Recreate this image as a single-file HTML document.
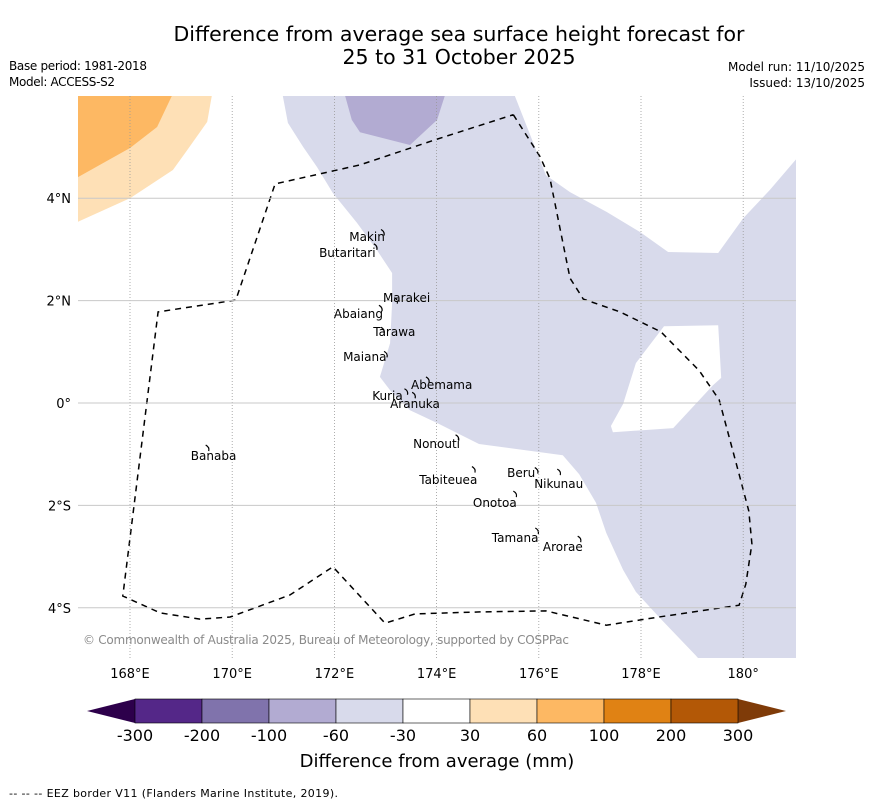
<!DOCTYPE html>
<html><head><meta charset="utf-8"><style>
body{margin:0;background:#fff;}
svg{display:block;font-family:"DejaVu Sans","Liberation Sans",sans-serif;}
</style></head><body>
<svg id="chart" width="873" height="804" viewBox="0 0 873 804" xmlns="http://www.w3.org/2000/svg">
<rect width="873" height="804" fill="#fff"/>
<text x="459" y="41" font-size="20.5" text-anchor="middle">Difference from average sea surface height forecast for</text>
<text x="459" y="64" font-size="20.5" text-anchor="middle">25 to 31 October 2025</text>
<text x="9" y="70" font-size="12" textLength="138">Base period: 1981-2018</text>
<text x="9" y="86" font-size="12" textLength="106">Model: ACCESS-S2</text>
<text x="865" y="71" font-size="12" text-anchor="end">Model run: 11/10/2025</text>
<text x="865" y="87" font-size="12" text-anchor="end">Issued: 13/10/2025</text>
<g id="map"></g>
<g id="cbar"></g>
<text x="437" y="767" font-size="18" text-anchor="middle">Difference from average (mm)</text>
<text x="9" y="797" font-size="11" textLength="329">--  --  -- EEZ border V11 (Flanders Marine Institute, 2019).</text>
</svg>
<script>
const lonTicks=[168,170,172,174,176,178,180];
const lonTickLabels=["168°E","170°E","172°E","174°E","176°E","178°E","180°"];
const latTicks=[4,2,0,-2,-4];
const latTickLabels=["4°N","2°N","0°","2°S","4°S"];
const lightPurple=[[170.99,6.0],[171.09,5.47],[171.39,5.0],[171.66,4.61],[171.97,4.10],[172.44,3.52],[172.83,2.99],[173.13,2.54],[173.13,1.95],[173.09,1.17],[172.89,0.51],[173.09,0.25],[173.48,-0.14],[174.01,-0.39],[174.83,-0.80],[176.47,-1.02],[176.79,-1.39],[177.12,-1.95],[177.32,-2.54],[177.65,-3.26],[177.90,-3.69],[178.37,-4.20],[179.06,-4.92],[179.15,-5.02],[181.06,-5.02],[181.06,4.79],[180.52,4.16],[180.0,3.61],[179.51,2.93],[178.53,2.95],[177.98,3.34],[177.33,3.73],[176.61,4.12],[176.14,4.45],[175.53,6.0]];
const purpleHole=[[178.45,1.50],[179.51,1.52],[179.57,0.49],[179.41,0.35],[178.63,-0.49],[177.45,-0.57],[177.41,-0.45],[177.65,-0.02],[177.90,0.78]];
const midPurple=[[172.21,6.0],[172.34,5.53],[172.50,5.29],[173.48,5.04],[174.01,5.53],[174.16,6.0]];
const lightOrange=[[166.98,3.54],[168.0,4.0],[168.84,4.55],[169.12,4.94],[169.51,5.49],[169.60,6.0],[166.98,6.0]];
const midOrange=[[166.98,4.41],[168.0,4.98],[168.53,5.39],[168.82,6.0],[166.98,6.0]];
const eez=[[175.50,5.63],[176.02,4.82],[176.22,4.38],[176.61,2.44],[176.87,2.03],[177.59,1.78],[178.39,1.39],[179.14,0.63],[179.53,0.06],[179.92,-1.39],[180.11,-2.11],[180.17,-2.75],[180.05,-3.54],[179.92,-3.95],[178.35,-4.18],[177.32,-4.34],[176.14,-4.06],[174.85,-4.08],[173.58,-4.12],[172.99,-4.30],[171.97,-3.20],[171.13,-3.75],[169.96,-4.18],[169.37,-4.22],[168.59,-4.10],[167.86,-3.77],[168.55,1.78],[170.07,2.01],[170.84,4.28],[172.50,4.65],[173.97,5.14],[175.50,5.63]];
const islandNames=["Makin","Butaritari","Marakei","Abaiang","Tarawa","Maiana","Abemama","Kuria","Aranuka","Nonouti","Banaba","Tabiteuea","Beru","Nikunau","Onotoa","Tamana","Arorae"];
const islandLon=[172.29,171.70,172.95,171.99,172.76,172.17,173.50,172.74,173.09,173.54,169.19,173.66,175.38,175.91,174.71,175.08,176.08];
const islandLat=[3.16,2.85,1.97,1.66,1.31,0.82,0.27,0.06,-0.10,-0.88,-1.11,-1.58,-1.45,-1.66,-2.03,-2.71,-2.89];
const atollLon=[172.97,172.83,173.23,172.93,172.97,173.03,173.85,173.43,173.58,174.43,169.54,174.75,175.98,176.42,175.56,175.99,176.82];
const atollLat=[3.33,3.05,2.00,1.85,1.42,0.95,0.45,0.22,0.15,-0.68,-0.88,-1.30,-1.32,-1.35,-1.78,-2.50,-2.66];
const cbLevels=["-300","-200","-100","-60","-30","30","60","100","200","300"];
const cbColors=["#542788","#8073ac","#b2abd2","#d8daeb","#ffffff","#fee0b6","#fdb863","#e08214","#b35806"];
const cbUnder="#2d004b", cbOver="#7f3b08";

const NS="http://www.w3.org/2000/svg";
const X0=78,X1=796,Y0=96,Y1=658;
const xs=lon=>130+(lon-168)*51.1;
const ys=lat=>403-lat*51.2;
const map=document.getElementById('map');
function mk(tag,attrs,parent){const e=document.createElementNS(NS,tag);for(const k in attrs)e.setAttribute(k,attrs[k]);(parent||map).appendChild(e);return e;}
const ptsStr=a=>a.map(p=>xs(p[0]).toFixed(1)+","+ys(p[1]).toFixed(1)).join(" ");
const pathStr=a=>"M"+a.map(p=>xs(p[0]).toFixed(1)+" "+ys(p[1]).toFixed(1)).join(" L")+" Z";
const cp=mk('clipPath',{id:'clip'});
mk('rect',{x:X0,y:Y0,width:X1-X0,height:Y1-Y0},cp);
const g=mk('g',{'clip-path':'url(#clip)'});
let e;
e=mk('path',{d:pathStr(lightPurple)+" "+pathStr(purpleHole),fill:cbColors[3],'fill-rule':'evenodd'},g);


e=mk('polygon',{points:ptsStr(midPurple),fill:cbColors[2]},g);


e=mk('polygon',{points:ptsStr(lightOrange),fill:cbColors[5]},g);


e=mk('polygon',{points:ptsStr(midOrange),fill:cbColors[6]},g);


lonTicks.forEach((v,i)=>{
  e=mk('line',{x1:xs(v),x2:xs(v),y1:Y0,y2:Y1,stroke:'#999','stroke-width':0.8,'stroke-dasharray':'1,2'});
  
  
  e=mk('text',{x:xs(v),y:678,'font-size':13,'text-anchor':'middle'});e.textContent=lonTickLabels[i];
  
  
});
latTicks.forEach((v,i)=>{
  e=mk('line',{x1:X0,x2:X1,y1:ys(v),y2:ys(v),stroke:'#c8c8c8','stroke-width':1});
  
  
  e=mk('text',{x:71,y:ys(v)+5,'font-size':13,'text-anchor':'end'});e.textContent=latTickLabels[i];
  
  
});
e=mk('polyline',{points:ptsStr(eez),fill:'none',stroke:'#000','stroke-width':1.5,'stroke-dasharray':'6,5'},g);


atollLon.forEach((lon,i)=>{
  const x=xs(lon),y=ys(atollLat[i]);
  e=mk('path',{d:`M${x-3} ${y-3} q4 2 3 6`,fill:'none',stroke:'#000','stroke-width':1.2},g);
  
  
});
islandNames.forEach((n,i)=>{
  e=mk('text',{x:xs(islandLon[i]),y:ys(islandLat[i]),'font-size':12});e.textContent=n;
  
  
});
e=mk('text',{x:83,y:644,'font-size':12,fill:'#8a8a8a',textLength:486});e.textContent="© Commonwealth of Australia 2025, Bureau of Meteorology, supported by COSPPac";



const cb=document.getElementById('cbar');
const CB0=135,CB1=738,CBy=699,CBh=24,n=cbColors.length,w=(CB1-CB0)/n;
e=mk('polygon',{points:`87,711 ${CB0},${CBy} ${CB0},${CBy+CBh}`,fill:cbUnder},cb);


e=mk('polygon',{points:`786,711 ${CB1},${CBy} ${CB1},${CBy+CBh}`,fill:cbOver},cb);


cbColors.forEach((c,i)=>{
  e=mk('rect',{x:CB0+i*w,y:CBy,width:w,height:CBh,fill:c,stroke:'#000','stroke-width':0.6},cb);
  
  
});
cbLevels.forEach((l,i)=>{
  e=mk('text',{x:CB0+i*w,y:741,'font-size':16,'text-anchor':'middle'},cb);e.textContent=l;
  
  
});
</script>
</body></html>
